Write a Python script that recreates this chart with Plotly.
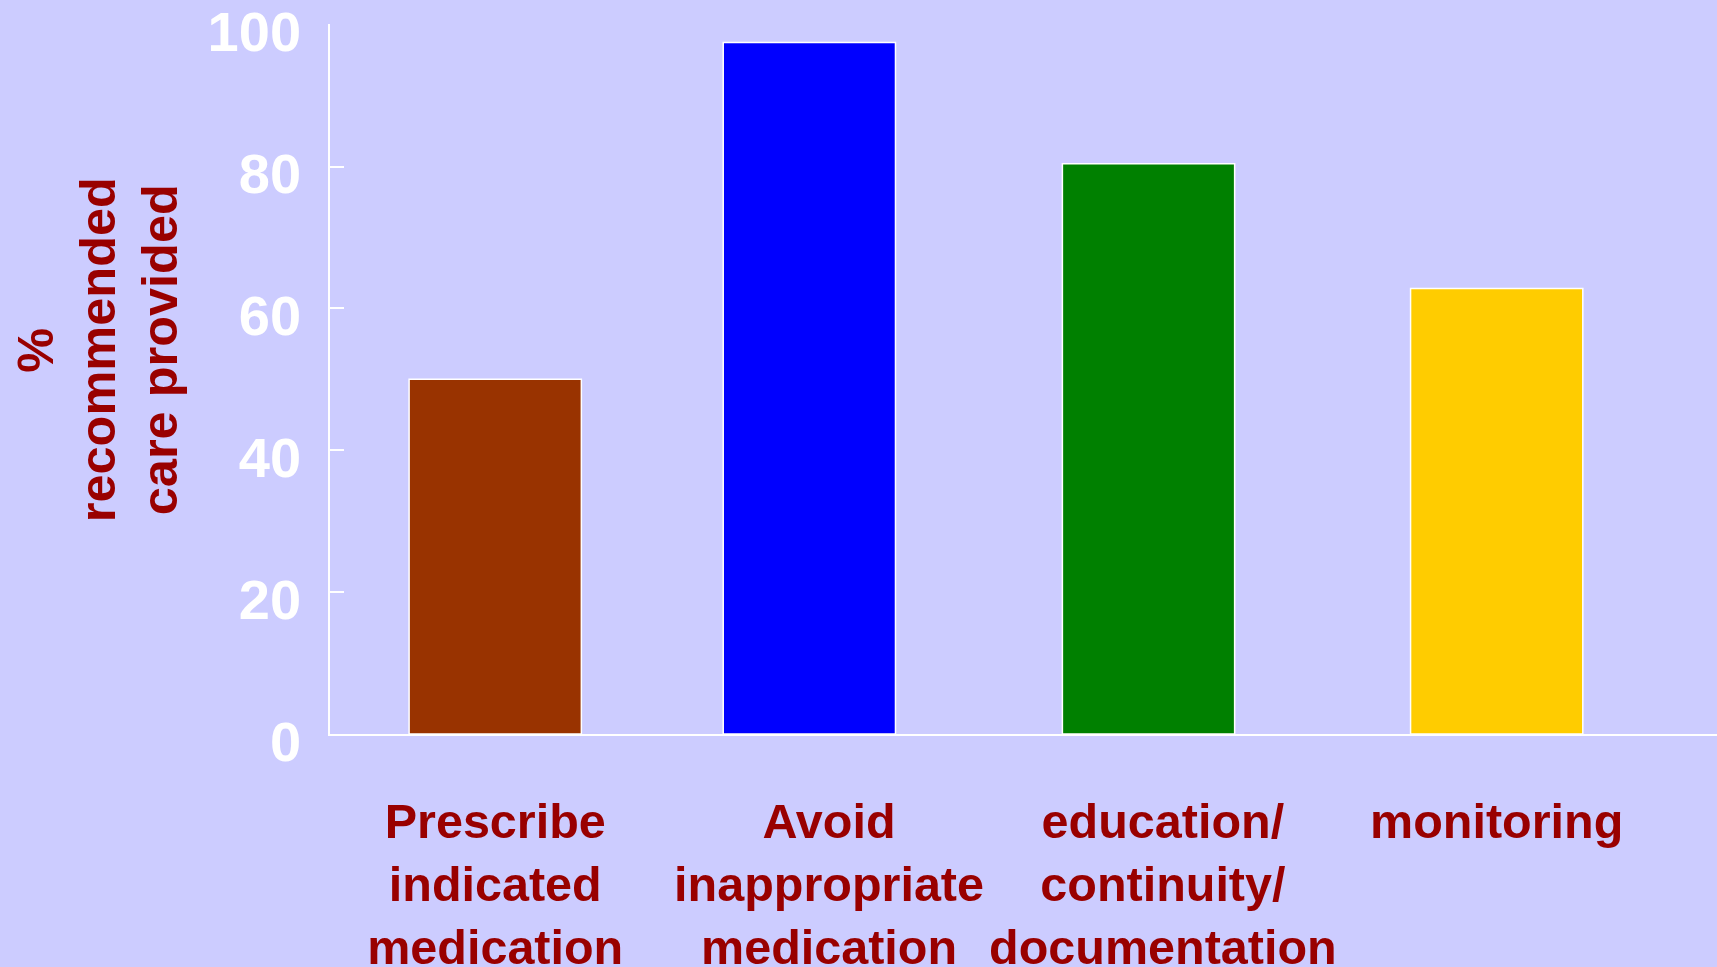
import plotly.graph_objects as go

categories = ["Prescribe<br>indicated<br>medication",
              "Avoid<br>inappropriate<br>medication",
              "education/<br>continuity/<br>documentation",
              "monitoring"]
values = [50, 97.5, 80.4, 62.8]
bar_colors = ["#993300", "#0000FF", "#008000", "#FFCC00"]
y_ticks = [0, 20, 40, 60, 80, 100]
y_title_lines = ["%", "recommended", "care provided"]

BG = "#CCCCFF"
DARKRED = "#990000"
FONT = "Liberation Sans, Arial, sans-serif"

fig = go.Figure()
fig.add_trace(go.Bar(
    x=categories, y=values,
    marker=dict(color=bar_colors, line=dict(color="white", width=1.5)),
    width=0.516,
    offset=[-0.258, -0.317, -0.301, -0.258],
))

title_x = [-0.212, -0.167, -0.123]
annotations = [dict(
    text=line, xref="paper", yref="paper", x=tx, y=0.541,
    xanchor="center", yanchor="middle", textangle=-90, showarrow=False,
    font=dict(family=FONT, size=50.5, color=DARKRED, weight="bold"),
) for line, tx in zip(y_title_lines, title_x)]

fig.update_layout(
    width=1717, height=967,
    paper_bgcolor=BG, plot_bgcolor=BG,
    margin=dict(l=330, r=0, t=24, b=233),
    showlegend=False,
    font=dict(family=FONT),
    xaxis=dict(
        range=[-0.495, 3.66], automargin=False, tickangle=0,
        showline=True, linecolor="white", linewidth=2,
        ticks="", showgrid=False, zeroline=False,
        tickfont=dict(family=FONT, size=48.5, color=DARKRED, weight="bold"),
        ticklabelstandoff=44,
    ),
    yaxis=dict(
        range=[0, 100.1], tickvals=y_ticks, automargin=False,
        showline=True, linecolor="white", linewidth=1.5,
        ticks="inside", ticklen=14, tickcolor="white", tickwidth=1.5,
        showgrid=False, zeroline=False,
        tickfont=dict(family=FONT, size=56, color="white", weight="bold"),
        ticklabelstandoff=16, ticklabelshift=7, ticklabeloverflow="allow",
    ),
    annotations=annotations,
)

fig.write_html("out.html", config={"displayModeBar": False},
               post_script="document.body.style.margin='0';document.body.style.overflow='hidden';")
